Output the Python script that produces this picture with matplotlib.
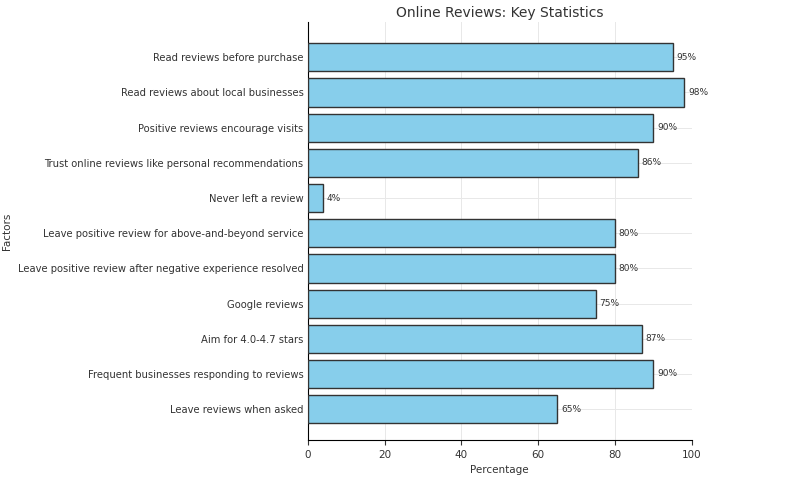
import matplotlib
matplotlib.use("Agg")
import matplotlib.pyplot as plt

categories = ["Read reviews before purchase", "Read reviews about local businesses",
              "Positive reviews encourage visits", "Trust online reviews like personal recommendations",
              "Never left a review", "Leave positive review for above-and-beyond service",
              "Leave positive review after negative experience resolved", "Google reviews",
              "Aim for 4.0-4.7 stars", "Frequent businesses responding to reviews",
              "Leave reviews when asked"]
values = [95, 98, 90, 86, 4, 80, 80, 75, 87, 90, 65]

fig = plt.figure(figsize=(7.87, 4.8), dpi=100)
ax = fig.add_axes([0.391, 0.083, 0.488, 0.871])
ys = list(range(len(categories)))
ax.barh(ys, values, height=0.8, color="#87CEEB", edgecolor="#333333", linewidth=1, zorder=3)
for y, v in zip(ys, values):
    ax.text(v + 1, y, f"{v}%", va="center", ha="left", fontsize=6.5, color="#333333")
ax.set_yticks(ys)
ax.set_yticklabels(categories, fontsize=7.2, color="#333333")
ax.set_ylim(10.88, -1.0)
ax.set_xlim(0, 100)
ax.set_xticks([0, 20, 40, 60, 80, 100])
ax.tick_params(axis="x", labelsize=7.5, colors="#333333")
ax.tick_params(axis="y", length=0, pad=3)
ax.grid(True, color="#e8e8e8", linewidth=0.7, zorder=0)
ax.spines["top"].set_visible(False)
ax.spines["right"].set_visible(False)
ax.set_xlabel("Percentage", fontsize=7.5, color="#333333")
ax.set_ylabel("Factors", fontsize=7.5, color="#333333")
ax.yaxis.set_label_coords(-0.77, 0.5)
ax.set_title("Online Reviews: Key Statistics", fontsize=10, color="#333333", pad=4)
fig.savefig("out.png", dpi=100)
